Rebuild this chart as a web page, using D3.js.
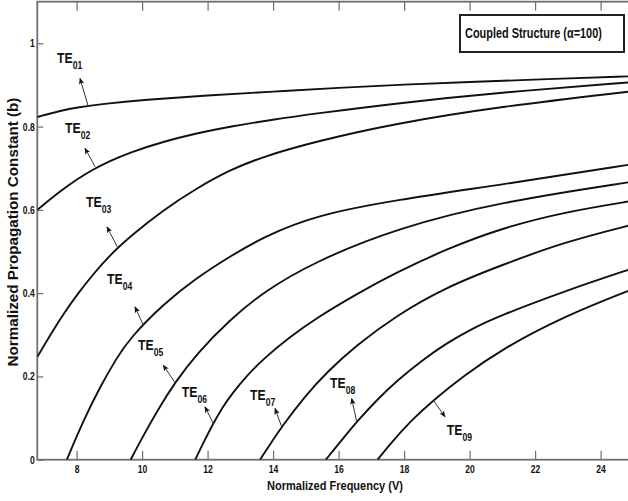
<!DOCTYPE html>
<html>
<head>
<meta charset="utf-8">
<script src="https://cdn.jsdelivr.net/npm/d3@7"></script>
<style>
  html, body { margin: 0; padding: 0; background: #fff; }
  svg { display: block; overflow: hidden; }
</style>
</head>
<body>
<svg id="chart" width="628" height="501"></svg>
<script>
// Tick values
const xTicks = [8, 10, 12, 14, 16, 18, 20, 22, 24];
const yTicks = [0, 0.2, 0.4, 0.6, 0.8, 1];

// Mode names
const modeNames = ["01", "02", "03", "04", "05", "06", "07", "08", "09"];

// Dispersion curves: normalized frequency V and normalized propagation constant b
const te01V = [6.8, 7.5, 8, 9, 10, 12, 14, 16, 18, 20, 22, 25];
const te01B = [0.823, 0.838, 0.846, 0.856, 0.864, 0.875, 0.884, 0.893, 0.901, 0.907, 0.913, 0.921];

const te02V = [6.8, 7.5, 8, 8.5, 9, 9.63, 10.65, 11.67, 12.68, 14, 15.28, 17.77, 20.93, 25];
const te02B = [0.600, 0.645, 0.673, 0.697, 0.717, 0.738, 0.764, 0.784, 0.800, 0.817, 0.831, 0.856, 0.882, 0.907];

const te03V = [6.8, 7.2, 7.6, 8, 8.5, 9, 9.63, 10.65, 11.67, 12.68, 13.70, 15.28, 17.77, 20.93, 25];
const te03B = [0.247, 0.300, 0.350, 0.395, 0.445, 0.490, 0.536, 0.600, 0.652, 0.696, 0.728, 0.764, 0.808, 0.848, 0.885];

const te04V = [7.70, 8.2, 8.71, 9.22, 9.63, 10.65, 11.67, 12.68, 13.70, 15.28, 17.77, 20.93, 25];
const te04B = [0, 0.0925, 0.174, 0.244, 0.292, 0.374, 0.437, 0.488, 0.535, 0.587, 0.624, 0.660, 0.710];

const te05V = [9.65, 10.0, 10.5, 11.0, 11.67, 12.68, 13.70, 15.28, 17.77, 20.93, 25];
const te05B = [0, 0.0525, 0.1225, 0.185, 0.255, 0.336, 0.403, 0.476, 0.556, 0.619, 0.668];

const te06V = [11.62, 11.9, 12.17, 12.45, 12.74, 13.2, 13.7, 14.5, 15.28, 16.5, 17.77, 19.3, 20.93, 22.9, 25];
const te06B = [0, 0.045, 0.087, 0.125, 0.158, 0.202, 0.242, 0.294, 0.338, 0.396, 0.450, 0.506, 0.555, 0.595, 0.622];

const te07V = [13.6, 13.9, 14.26, 15.0, 15.64, 16.5, 17.77, 19.3, 20.93, 22.9, 25];
const te07B = [0, 0.036, 0.079, 0.155, 0.210, 0.272, 0.347, 0.415, 0.466, 0.523, 0.565];

const te08V = [15.61, 15.9, 16.2, 16.55, 17.2, 17.77, 18.5, 19.3, 20.1, 20.93, 22.9, 25];
const te08B = [0, 0.028, 0.057, 0.091, 0.146, 0.189, 0.236, 0.280, 0.316, 0.346, 0.405, 0.460];

const te09V = [17.19, 17.6, 18.2, 18.89, 19.8, 20.93, 22.9, 25];
const te09B = [0, 0.040, 0.093, 0.143, 0.200, 0.263, 0.345, 0.410];

// Annotation anchors in data units (V, b): label start, arrow tail (on curve), arrow head
const labelAt = [[7.40, 0.953], [7.646, 0.785], [8.287, 0.607], [8.928, 0.422], [9.875, 0.263],
                 [11.21, 0.151], [13.295, 0.143], [15.737, 0.172], [19.30, 0.059]];
const arrowTail = [[8.357, 0.848], [8.562, 0.704], [9.264, 0.508], [10.037, 0.323], [10.99, 0.187],
                   [12.174, 0.087], [14.263, 0.079], [16.553, 0.091], [18.89, 0.143]];
const arrowHead = [[8.104, 0.916], [8.256, 0.748], [8.928, 0.559], [9.783, 0.367], [10.647, 0.227],
                   [11.92, 0.127], [14.058, 0.123], [16.40, 0.147], [19.249, 0.103]];

const legendText = "Coupled Structure (\u03b1=100)";
const xTitle = "Normalized Frequency (V)";
const yTitle = "Normalized Propagation Constant (b)";

const seriesV = [te01V, te02V, te03V, te04V, te05V, te06V, te07V, te08V, te09V];
const seriesB = [te01B, te02B, te03B, te04B, te05B, te06B, te07B, te08B, te09B];
const modes = modeNames.map((name, i) => ({
  name,
  points: seriesV[i].map((v, j) => [v, seriesB[i][j]]),
  label: labelAt[i], tail: arrowTail[i], head: arrowHead[i]
}));

const font = "'Liberation Sans', Arial, Helvetica, sans-serif";
const condense = 0.78;   // horizontal squeeze for the condensed lettering

const svg = d3.select("#chart");
const plot = { left: 37.3, right: 633.35, top: 1.66, bottom: 459.7 };

const x = d3.scaleLinear().domain([6.8, 25]).range([plot.left, plot.right]);
const y = d3.scaleLinear().domain([0, 1.1]).range([plot.bottom, plot.top]);

// condensed text: a group placed at (px, py), squeezed horizontally to a given width
function condensedText(parent, px, py, str, size, width, anchor) {
  const g = parent.append("g");
  const t = g.append("text")
    .attr("text-anchor", anchor || "start")
    .attr("font-family", font)
    .attr("font-weight", "bold")
    .attr("font-size", size)
    .attr("fill", "#111")
    .text(str);
  const len = t.node().getComputedTextLength();
  const sx = width ? width / len : condense;
  g.attr("transform", `translate(${px},${py}) scale(${sx.toFixed(4)},1)`);
  return t;
}

const defs = svg.append("defs");
defs.append("clipPath").attr("id", "plotClip")
  .append("rect")
  .attr("x", plot.left).attr("y", plot.top)
  .attr("width", plot.right - plot.left).attr("height", plot.bottom - plot.top);

defs.append("marker")
  .attr("id", "arrowhead")
  .attr("viewBox", "0 0 10 10")
  .attr("refX", 9).attr("refY", 5)
  .attr("markerWidth", 6.5).attr("markerHeight", 6.5)
  .attr("orient", "auto")
  .append("path")
  .attr("d", "M0,0.8 L10,5 L0,9.2 L2.2,5 Z")
  .attr("fill", "#111");

// Axes (ticks point inward)
const axisColor = "#6e6e6e";

const gx = svg.append("g")
  .attr("transform", `translate(0,${plot.bottom})`)
  .call(d3.axisBottom(x).tickValues(xTicks).tickSizeInner(-9).tickSizeOuter(0).tickPadding(5.5));
const gxTop = svg.append("g")
  .attr("transform", `translate(0,${plot.top})`)
  .call(d3.axisTop(x).tickValues(xTicks).tickSizeInner(-9).tickSizeOuter(0).tickFormat(""));
const gy = svg.append("g")
  .attr("transform", `translate(${plot.left},0)`)
  .call(d3.axisLeft(y).tickValues(yTicks).tickSizeInner(-6).tickSizeOuter(0).tickPadding(2.5)
    .tickFormat(d => d === 0 ? "0" : d === 1 ? "1" : d3.format(".1f")(d)));

[gx, gxTop, gy].forEach(g => {
  g.select(".domain").remove();
  g.selectAll(".tick line").attr("stroke", axisColor).attr("stroke-width", 1.2);
  g.selectAll(".tick text")
    .attr("fill", "#111")
    .attr("font-family", font)
    .attr("font-weight", "bold")
    .attr("font-size", 11);
});
// squeeze the tick numbers about their anchor
gx.selectAll(".tick text").attr("transform", `scale(${condense},1)`);
gy.selectAll(".tick text").each(function () {
  const t = d3.select(this);
  const xx = +t.attr("x");
  t.attr("transform", `translate(${xx},0) scale(${condense},1)`).attr("x", 0);
});

// Frame
svg.append("rect")
  .attr("x", plot.left).attr("y", plot.top)
  .attr("width", plot.right - plot.left).attr("height", plot.bottom - plot.top)
  .attr("fill", "none")
  .attr("stroke", axisColor)
  .attr("stroke-width", 1.8);

// Curves
const line = d3.line()
  .x(d => x(d[0]))
  .y(d => y(d[1]))
  .curve(d3.curveBasis);

svg.append("g")
  .attr("clip-path", "url(#plotClip)")
  .selectAll("path.mode")
  .data(modes)
  .join("path")
  .attr("class", "mode")
  .attr("d", d => line(d.points))
  .attr("fill", "none")
  .attr("stroke", "#111")
  .attr("stroke-width", 1.9)
  .attr("stroke-linejoin", "round");

// Mode labels with arrows
const ann = svg.append("g");
ann.selectAll("line.arrow")
  .data(modes)
  .join("line")
  .attr("class", "arrow")
  .attr("x1", d => x(d.tail[0])).attr("y1", d => y(d.tail[1]))
  .attr("x2", d => x(d.head[0])).attr("y2", d => y(d.head[1]))
  .attr("stroke", "#333")
  .attr("stroke-width", 1)
  .attr("marker-end", "url(#arrowhead)");

modes.forEach(m => {
  const g = ann.append("g")
    .attr("transform", `translate(${x(m.label[0])},${y(m.label[1])}) scale(0.82,1)`);
  const t = g.append("text")
    .attr("font-family", font)
    .attr("font-weight", "bold")
    .attr("font-size", 15)
    .attr("fill", "#111");
  t.append("tspan").text("TE");
  t.append("tspan").attr("dy", 6).attr("font-size", 10.5).text(m.name);
});

// Axis titles
condensedText(svg, 335, 490, xTitle, 13.5, 136, "middle");

svg.append("g")
  .attr("transform", "translate(18.3,232) rotate(-90)")
  .append("text")
  .attr("text-anchor", "middle")
  .attr("font-family", font)
  .attr("font-weight", "bold")
  .attr("font-size", 12)
  .attr("fill", "#111")
  .text(yTitle)
  .each(function () {
    const len = this.getComputedTextLength();
    d3.select(this).attr("font-size", (12 * 269 / len).toFixed(2));
  });

// Legend box
const legend = svg.append("g");
legend.append("rect")
  .attr("x", 460).attr("y", 15)
  .attr("width", 164).attr("height", 37)
  .attr("fill", "#fff")
  .attr("stroke", "#222")
  .attr("stroke-width", 2);
condensedText(legend, 465, 37.5, legendText, 14, 137, "start");
</script>
</body>
</html>
